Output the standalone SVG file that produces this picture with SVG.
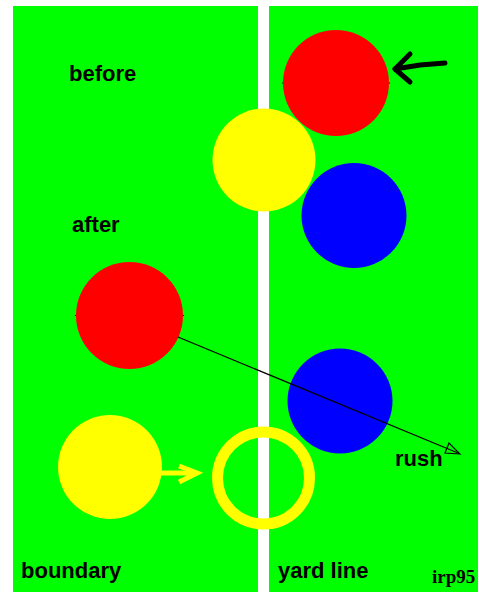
<svg xmlns="http://www.w3.org/2000/svg" width="479" height="592" viewBox="0 0 479 592">
<style>
.lbl{font-family:"Liberation Sans",Arial,sans-serif;font-weight:bold;font-size:22px;fill:#000}
.sig{font-family:"Liberation Serif","Times New Roman",serif;font-weight:bold;font-size:19px;fill:#000}
</style>
<rect x="0" y="0" width="479" height="592" fill="#fff"/>
<rect id="field" x="13" y="6" width="465" height="586" fill="#00ff00"/>
<rect id="yardline" x="258" y="6" width="11" height="586" fill="#fff"/>
<g id="ticks" stroke="#000" stroke-width="1">
<line x1="282" y1="83" x2="390" y2="83"/>
<line x1="75" y1="315.5" x2="184" y2="315.5"/>
</g>
<g id="red-before"><circle cx="336" cy="83" r="53" fill="#ff0000"/></g>
<g id="yellow-before"><circle cx="264" cy="160" r="51.5" fill="#ffff00"/></g>
<g id="blue-before"><circle cx="354" cy="215.5" r="52.5" fill="#0000ff"/></g>
<g id="red-after"><circle cx="129.5" cy="315.5" r="53.5" fill="#ff0000"/></g>
<g id="blue-after"><circle cx="340" cy="401" r="52.5" fill="#0000ff"/></g>
<g id="yellow-after"><circle cx="110" cy="467" r="52" fill="#ffff00"/></g>
<g id="yellow-ring"><circle cx="263.5" cy="478" r="46" fill="none" stroke="#ffff00" stroke-width="11"/></g>
<g id="connectors">
<g id="push-arrow" fill="none" stroke="#000" stroke-width="5" stroke-linecap="round" stroke-linejoin="round">
<polyline points="445,63 420,65 395,69"/>
<polyline points="410,54 395,69 410,82"/>
</g>
<g id="rush-arrow" fill="none" stroke="#000" stroke-width="1.2">
<line x1="178" y1="337" x2="458" y2="453"/>
<polygon points="460,454 445,453 449,443"/>
</g>
<g id="move-arrow" fill="none" stroke="#ffff00" stroke-width="5" stroke-linejoin="miter">
<line x1="158" y1="473" x2="197" y2="473"/>
<polyline points="179,466 197,473 179,482"/>
</g>
</g>
<g id="labels">
<text class="lbl" x="69" y="81">before</text>
<text class="lbl" x="72" y="232">after</text>
<text class="lbl" x="395" y="466">rush</text>
<text class="lbl" x="21" y="578">boundary</text>
<text class="lbl" x="278" y="578">yard line</text>
<text class="sig" x="432" y="583">irp95</text>
</g>
</svg>
